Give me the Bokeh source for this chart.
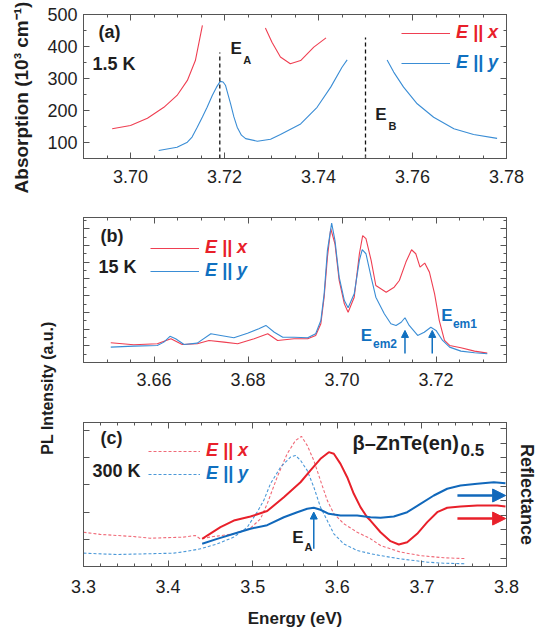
import numpy as np
from bokeh.plotting import figure
from bokeh.models import (Range1d, LinearAxis, FixedTicker, Label, Arrow, NormalHead,
                          Legend, LegendItem, PrintfTickFormatter, CustomJSTickFormatter)
from bokeh.layouts import column, row
from bokeh.embed import file_html
from bokeh.resources import INLINE

# ---------------- data ----------------
# (a) absorption, 1.5 K (10^3 cm^-1)
abs_x_red1 = [3.6961, 3.7000, 3.7036, 3.7071, 3.7099, 3.7121, 3.7138, 3.7153]
abs_y_red1 = [143, 153, 176, 210, 247, 294, 356, 466]
abs_x_red2 = [3.7287, 3.7301, 3.7319, 3.7340, 3.7362, 3.7390, 3.7416]
abs_y_red2 = [458, 413, 367, 346, 356, 398, 427]
abs_x_blue1 = [3.7060, 3.7099, 3.7121, 3.7131, 3.7142, 3.7153, 3.7163, 3.7174, 3.7183,
               3.7191, 3.7197, 3.7202, 3.7208, 3.7213, 3.7220, 3.7227, 3.7236, 3.7245,
               3.7270, 3.7298, 3.7319, 3.7362, 3.7397, 3.7426, 3.7450, 3.7461]
abs_y_blue1 = [75, 85, 101, 117, 148, 180, 210, 247, 273,
               291, 289, 279, 247, 221, 180, 148, 123, 112,
               104, 110, 125, 158, 210, 273, 335, 358]
abs_x_blue2 = [3.7546, 3.7560, 3.7581, 3.7610, 3.7645, 3.7688, 3.7730, 3.7780]
abs_y_blue2 = [358, 320, 273, 221, 179, 143, 125, 113]
exciton_x = [3.719, 3.750]
exciton_top = [381, 428]

# (b) PL, 15 K (a.u.)
pl15_x_red = [3.6508, 3.6557, 3.6607, 3.6636, 3.6660, 3.6692, 3.6717, 3.6749, 3.6778,
              3.6813, 3.6842, 3.6863, 3.6898, 3.6927, 3.6944, 3.6955, 3.6962, 3.6969,
              3.6976, 3.6985, 3.6994, 3.7005, 3.7013, 3.7026, 3.7037, 3.7044, 3.7051,
              3.7062, 3.7072, 3.7094, 3.7111, 3.7122, 3.7136, 3.7148, 3.7157, 3.7166,
              3.7176, 3.7186, 3.7197, 3.7207, 3.7218, 3.7229, 3.7253, 3.7282, 3.7309]
pl15_y_red = [1.18, 1.06, 1.12, 1.42, 1.08, 1.12, 1.32, 1.22, 1.12,
              1.42, 1.72, 1.32, 1.42, 1.42, 1.62, 2.32, 3.91, 6.31,
              8.01, 7.11, 4.91, 3.51, 3.01, 3.91, 6.51, 7.60, 7.41,
              6.11, 4.61, 4.21, 4.51, 4.91, 6.01, 6.75, 6.51, 5.71,
              5.95, 5.41, 4.11, 2.51, 1.32, 1.02, 0.88, 0.68, 0.56]
pl15_x_blue = [3.6508, 3.6557, 3.6607, 3.6621, 3.6634, 3.6646, 3.6664, 3.6692, 3.6721,
               3.6742, 3.6770, 3.6799, 3.6823, 3.6838, 3.6856, 3.6874, 3.6898, 3.6927,
               3.6944, 3.6955, 3.6962, 3.6969, 3.6978, 3.6985, 3.6994, 3.7005, 3.7013,
               3.7026, 3.7037, 3.7043, 3.7051, 3.7062, 3.7072, 3.7090, 3.7104, 3.7115,
               3.7126, 3.7134, 3.7143, 3.7161, 3.7175, 3.7189, 3.7200, 3.7214, 3.7229,
               3.7253, 3.7282, 3.7309]
pl15_y_blue = [0.92, 0.98, 1.02, 1.22, 1.57, 1.42, 1.08, 1.16, 1.72,
               1.62, 1.48, 1.75, 2.02, 2.22, 1.81, 1.51, 1.51, 1.48,
               1.72, 2.51, 4.11, 6.71, 8.34, 7.31, 5.11, 3.71, 3.28,
               4.11, 6.11, 6.75, 6.51, 5.11, 3.91, 2.92, 2.32, 2.22,
               2.41, 2.68, 2.22, 1.62, 1.81, 2.11, 1.92, 1.32, 0.92,
               0.68, 0.58, 0.52]
em_x = [3.7134, 3.7192]          # E_em2, E_em1

# (c) 300 K: PL (dashed, left axis) and reflectance (solid, right axis)
pl300_x_red = [3.300, 3.3197, 3.3394, 3.3591, 3.3788, 3.3985, 3.4182, 3.4320, 3.4379,
               3.4537, 3.4773, 3.4970, 3.5092, 3.5171, 3.5230, 3.5289, 3.5407, 3.5506,
               3.5577, 3.5644, 3.5722, 3.5801, 3.5881, 3.5959, 3.6077, 3.6235, 3.6392,
               3.6511, 3.6747, 3.6983, 3.7259, 3.7515]
pl300_y_red = [1.26, 1.18, 1.14, 1.10, 1.04, 1.06, 1.08, 1.14, 1.02,
               1.10, 1.20, 1.40, 1.75, 2.30, 2.79, 3.28, 4.14, 4.63,
               4.78, 4.45, 3.90, 3.16, 2.43, 1.94, 1.57, 1.26, 1.02,
               0.77, 0.53, 0.40, 0.32, 0.29]
pl300_x_blue = [3.300, 3.3398, 3.3792, 3.4068, 3.4226, 3.4383, 3.4580, 3.4777, 3.4935,
                3.5053, 3.5131, 3.5210, 3.5329, 3.5447, 3.5506, 3.5565, 3.5644, 3.5722,
                3.5801, 3.5881, 3.5959, 3.6077, 3.6235, 3.6392, 3.6511, 3.6747, 3.7063,
                3.7259, 3.7515]
pl300_y_blue = [0.49, 0.44, 0.47, 0.49, 0.56, 0.65, 0.83, 1.08, 1.44,
                2.00, 2.43, 3.04, 3.65, 4.02, 4.08, 3.90, 3.53, 2.92,
                2.18, 1.69, 1.20, 0.83, 0.59, 0.47, 0.40, 0.28, 0.16,
                0.12, 0.10]
refl_x_red = [3.4403, 3.4462, 3.4619, 3.4777, 3.4974, 3.5171, 3.5368, 3.5565, 3.5683,
              3.5801, 3.5900, 3.5959, 3.6038, 3.6117, 3.6195, 3.6274, 3.6353, 3.6392,
              3.6511, 3.6629, 3.6727, 3.6826, 3.6944, 3.7063, 3.7181, 3.7299, 3.7456,
              3.7654, 3.7890, 3.7988]
refl_y_red = [1.37, 1.60, 2.18, 2.64, 2.92, 3.30, 4.26, 5.30, 6.12,
              6.93, 7.39, 7.28, 6.58, 5.65, 4.50, 3.57, 2.87, 2.64,
              1.83, 1.21, 0.98, 1.14, 1.72, 2.53, 3.22, 3.53, 3.62,
              3.69, 3.69, 3.62]
refl_x_blue = [3.4403, 3.4580, 3.4777, 3.4974, 3.5171, 3.5368, 3.5526, 3.5644, 3.5722,
               3.5801, 3.5900, 3.6038, 3.6235, 3.6392, 3.6511, 3.6668, 3.6826, 3.6983,
               3.7141, 3.7299, 3.7456, 3.7654, 3.7850, 3.7988]
refl_y_blue = [1.03, 1.37, 1.72, 2.07, 2.32, 2.87, 3.22, 3.46, 3.53,
               3.39, 3.11, 2.99, 2.99, 2.87, 2.83, 2.92, 3.22, 3.80,
               4.38, 4.85, 5.08, 5.19, 5.30, 5.23]
ea300_x = 3.5722

# ticks
a_xticks = [3.70, 3.72, 3.74, 3.76, 3.78]
a_yticks = [100, 200, 300, 400, 500]
b_xticks = [3.66, 3.68, 3.70, 3.72]
b_yticks = [1, 2, 3, 4, 5, 6, 7, 8]
c_xticks = [3.3, 3.4, 3.5, 3.6, 3.7, 3.8]
c_yticks = [1, 2, 3, 4, 5]
c_rticks = [0, 1, 2, 3, 4, 5, 6, 7, 8, 9]

# ---------------- style ----------------
FONT = "Liberation Sans"
AX = "#555555"
DARK = "#1e1e1e"
RED_LINE = "#ef3f52"
BLUE_LINE = "#3a8dd5"
RED_TEXT = "#e8202a"
BLUE_TEXT = "#1070c0"
RED_DASH = "#f06a78"
BLUE_DASH = "#4a98d8"
RED_REFL = "#e8202a"
BLUE_REFL = "#1168bb"

BLANK = CustomJSTickFormatter(code="return ''")


def style_axis(ax, show=True, fmt=None, standoff=11):
    ax.major_tick_in = 6
    ax.major_tick_out = 0
    ax.minor_tick_in = 3
    ax.minor_tick_out = 0
    ax.axis_line_color = AX
    ax.major_tick_line_color = AX
    ax.minor_tick_line_color = AX
    ax.major_label_text_font = FONT
    ax.major_label_text_color = DARK
    if show:
        ax.major_label_text_font_size = "18px"
        ax.major_label_standoff = standoff
        if fmt:
            ax.formatter = PrintfTickFormatter(format=fmt)
    else:
        ax.major_label_text_font_size = "2px"
        ax.major_label_standoff = 0
        ax.formatter = BLANK


def base_fig(xr, yr, fh, bl, br, bt, bb):
    p = figure(frame_width=423, frame_height=fh, x_range=Range1d(*xr), y_range=Range1d(*yr),
               output_backend="svg", toolbar_location=None,
               min_border_left=bl, min_border_right=br, min_border_top=bt,
               min_border_bottom=bb)
    p.grid.visible = False
    p.outline_line_color = AX
    p.border_fill_color = "white"
    return p


def label_fig(w, h):
    f = figure(width=w, height=h, x_range=Range1d(0, w), y_range=Range1d(0, h),
               output_backend="svg", toolbar_location=None, x_axis_type=None,
               y_axis_type=None, min_border=0)
    f.grid.visible = False
    f.outline_line_color = None
    return f


def ticker(major, minor=None):
    return FixedTicker(ticks=major, minor_ticks=list(minor) if minor is not None else [])


def box_axes(p, xt, yt, xfmt, yfmt=None, show_y=True, right=None, xstand=11):
    bottom = p.xaxis[0]
    left = p.yaxis[0]
    style_axis(bottom, True, xfmt, xstand)
    bottom.ticker = xt
    style_axis(left, show_y, yfmt, 6)
    left.ticker = yt
    top = LinearAxis(ticker=xt)
    style_axis(top, False)
    p.add_layout(top, "above")
    if right is None:
        right = LinearAxis(ticker=yt)
        style_axis(right, False)
    p.add_layout(right, "right")
    return bottom, left


def txt(p, x, y, s, size, color=DARK, style="bold", angle=0.0, align="left",
        baseline="middle", yname="default"):
    p.add_layout(Label(x=x, y=y, text=s, text_font=FONT, text_font_size=size,
                       text_font_style=style, text_color=color, angle=angle,
                       text_align=align, text_baseline=baseline, y_range_name=yname))


def legend(p, r, text, color, loc, gw):
    leg = Legend(items=[LegendItem(label=text, renderers=[r])], location=loc,
                 padding=0, margin=0, spacing=0, glyph_width=gw, glyph_height=20,
                 label_standoff=6, label_height=20, label_text_font=FONT,
                 label_text_font_size="18px", label_text_font_style="bold italic",
                 label_text_color=color, border_line_alpha=0, background_fill_alpha=0)
    p.add_layout(leg)


# ---------------- panel (a) ----------------
pa = base_fig((3.69, 3.78), (50, 500), 144, 47, 36, 14, 42)
box_axes(pa, ticker(a_xticks, np.round(np.arange(3.69, 3.7801, 0.005), 3)),
         ticker(a_yticks, list(range(50, 501, 50))), "%.2f", "%d")
ra1 = pa.line(abs_x_red1, abs_y_red1, line_color=RED_LINE, line_width=1.1)
pa.line(abs_x_red2, abs_y_red2, line_color=RED_LINE, line_width=1.1)
rb1 = pa.line(abs_x_blue1, abs_y_blue1, line_color=BLUE_LINE, line_width=1.1)
pa.line(abs_x_blue2, abs_y_blue2, line_color=BLUE_LINE, line_width=1.1)
pa.segment(x0=exciton_x, y0=[50, 50], x1=exciton_x, y1=exciton_top,
           line_color="#111111", line_width=1.3, line_dash="4 3")
legend(pa, ra1, "E || x", RED_TEXT, (318, 115), 49)
legend(pa, rb1, "E || y", BLUE_TEXT, (318, 85), 49)
txt(pa, 3.6932, 445, "(a)", "18px")
txt(pa, 3.6919, 344, "1.5 K", "18px")
txt(pa, 3.7213, 395, "E", "17px")
txt(pa, 3.7240, 359, "A", "11px")
txt(pa, 3.7521, 189, "E", "17px")
txt(pa, 3.7549, 153, "B", "11px")

# absorption axis title in its own strip (canvas px coordinates)
pabs = label_fig(36, 200)
pabs.add_layout(Label(x=21, y=103, text="Absorption (10³ cm⁻¹)", text_font=FONT,
                      text_font_size="19px", text_font_style="bold", text_color=DARK,
                      angle=np.pi / 2, text_align="center", text_baseline="middle"))

# ---------------- panel (b) ----------------
pb = base_fig((3.645, 3.735), (0, 8.68), 145, 15, 36, 17, 38)
box_axes(pb, ticker(b_xticks, np.round(np.arange(3.645, 3.7351, 0.005), 3)),
         ticker(b_yticks, list(np.arange(0.5, 8.6, 0.5))), "%.2f", show_y=False, xstand=10)
rr = pb.line(pl15_x_red, pl15_y_red, line_color=RED_LINE, line_width=1.1)
rbb = pb.line(pl15_x_blue, pl15_y_blue, line_color=BLUE_LINE, line_width=1.1)
legend(pb, rr, "E || x", RED_TEXT, (67, 104), 49)
legend(pb, rbb, "E || y", BLUE_TEXT, (67, 81), 49)
for ex in em_x:
    pb.add_layout(Arrow(end=NormalHead(size=7, fill_color=BLUE_TEXT, line_color=BLUE_TEXT),
                        x_start=ex, y_start=0.54, x_end=ex, y_end=1.92,
                        line_color=BLUE_TEXT, line_width=1.5))
txt(pb, 3.6486, 7.60, "(b)", "18px")
txt(pb, 3.6482, 5.72, "15 K", "18px")
txt(pb, 3.7040, 1.62, "E", "17px", color=BLUE_TEXT)
txt(pb, 3.7066, 1.10, "em2", "12px", color=BLUE_TEXT)
txt(pb, 3.7211, 2.81, "E", "17px", color=BLUE_TEXT)
txt(pb, 3.7236, 2.28, "em1", "12px", color=BLUE_TEXT)

# ---------------- panel (c) ----------------
pc = base_fig((3.3, 3.8), (0, 5.29), 144, 15, 36, 22, 68)
pc.extra_y_ranges = {"refl": Range1d(-0.55, 9.45)}
rax = LinearAxis(y_range_name="refl", ticker=ticker(c_rticks), axis_label="Reflectance")
style_axis(rax, False)
rax.axis_label_text_font = FONT
rax.axis_label_text_font_size = "18px"
rax.axis_label_text_font_style = "bold"
rax.axis_label_text_color = DARK
rax.axis_label_standoff = 10
cbottom, cleft = box_axes(pc, ticker(c_xticks, np.round(np.arange(3.3, 3.8001, 0.02), 2)),
                          ticker(c_yticks), "%.1f", show_y=False, right=rax, xstand=13)
cbottom.axis_label = "Energy (eV)"
cbottom.axis_label_text_font = FONT
cbottom.axis_label_text_font_size = "17px"
cbottom.axis_label_text_font_style = "bold"
cbottom.axis_label_text_color = DARK
cbottom.axis_label_standoff = 13
pdr = pc.line(pl300_x_red, pl300_y_red, line_color=RED_DASH, line_width=1.1, line_dash="3 2")
pdb = pc.line(pl300_x_blue, pl300_y_blue, line_color=BLUE_DASH, line_width=1.1, line_dash="3 2")
pc.line(refl_x_red, refl_y_red, line_color=RED_REFL, line_width=2, y_range_name="refl")
pc.line(refl_x_blue, refl_y_blue, line_color=BLUE_REFL, line_width=2, y_range_name="refl")
legend(pc, pdr, "E || x", RED_TEXT, (65, 105), 52)
legend(pc, pdb, "E || y", BLUE_TEXT, (65, 82), 52)
pc.add_layout(Arrow(end=NormalHead(size=7, fill_color=BLUE_TEXT, line_color=BLUE_TEXT),
                    x_start=ea300_x, y_start=0.65, x_end=ea300_x, y_end=2.0,
                    line_color=BLUE_TEXT, line_width=1.5))
for col, yv in ((BLUE_REFL, 4.38), (RED_REFL, 2.78)):
    pc.add_layout(Arrow(end=NormalHead(size=13, fill_color=col, line_color=col),
                        x_start=3.742, y_start=yv, x_end=3.799, y_end=yv,
                        line_color=col, line_width=2.5, y_range_name="refl"))
txt(pc, 3.3201, 4.72, "(c)", "18px")
txt(pc, 3.3106, 3.51, "300 K", "18px")
txt(pc, 3.6180, 4.52, "β–ZnTe(en)", "20px")
txt(pc, 3.7456, 4.28, "0.5", "17px")
txt(pc, 3.5467, 1.05, "E", "17px")
txt(pc, 3.5612, 0.70, "A", "11px")

# ---------------- shared PL label ----------------
pl = label_fig(68, 434)
pl.add_layout(Label(x=47, y=246.5, text="PL Intensity (a.u.)", text_font=FONT,
                    text_font_size="16px", text_font_style="bold", text_color=DARK,
                    angle=np.pi / 2, text_align="center", text_baseline="middle"))

layout = column(row(column(pabs), pa), row(pl, column(pb, pc)))
open("out.html", "w").write(file_html(layout, INLINE))
